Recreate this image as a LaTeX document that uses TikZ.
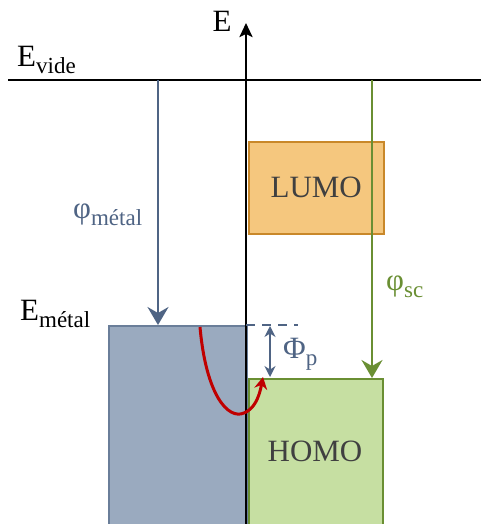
\documentclass[tikz,border=0pt]{standalone}
\usepackage{fontspec}
\setmainfont{Liberation Serif}
\usetikzlibrary{arrows.meta}
\definecolor{metalblue}{HTML}{4F6484}
\definecolor{metalfill}{HTML}{9AAABF}
\definecolor{metaledge}{HTML}{6A7E99}
\definecolor{scgreen}{HTML}{6A8F33}
\definecolor{homofill}{HTML}{C6DFA2}
\definecolor{lumofill}{HTML}{F5C77E}
\definecolor{lumoedge}{HTML}{C9882A}
\definecolor{redarr}{HTML}{C00000}
\definecolor{txtgray}{HTML}{404040}
\newcommand{\bigtxt}{\fontsize{31}{34}\selectfont}
\newcommand{\subtxt}[1]{\raisebox{-7pt}{\fontsize{23}{24}\selectfont #1}}
\tikzset{
  level/.style={line width=2.5pt, black},
  band/.style={draw, line width=1.5pt, anchor=north west, inner sep=0pt, text=txtgray, font=\bigtxt},
  workarrow/.style={line width=2pt, -{Stealth[length=18pt,width=21pt,inset=6pt]}},
  lbl/.style={anchor=base west, inner sep=0pt, font=\bigtxt},
}
\begin{document}
\begin{tikzpicture}[x=1pt,y=-1pt]
\clip (0,0) rectangle (481,524);
\fill[white] (0,0) rectangle (481,524);
% bands
\node[band, fill=lumofill, draw=lumoedge, minimum width=135pt, minimum height=92pt] (lumo) at (248,141) {LUMO};
\node[band, fill=metalfill, draw=metaledge, minimum width=138pt, minimum height=215pt] (metal) at (108,325) {};
\node[band, fill=homofill, draw=scgreen, minimum width=134pt, minimum height=160pt] (homo) at (248,378) {};
\node[text=txtgray, font=\bigtxt] (homolbl) at (315,451) {HOMO};
% vacuum level
\coordinate (vl) at (8,80);
\coordinate (vr) at (481,80);
\draw[level] (vl) -- (vr);
% energy axis
\coordinate (ab) at (246,530);
\coordinate (at) at (246,23);
\draw[level, -{Stealth[length=14pt,width=13pt,inset=3pt]}] (ab) -- (at);
\node[font=\bigtxt, inner sep=0pt] (elbl) at (222,21) {E};
% work functions
\coordinate (m1) at (158,80);
\coordinate (m2) at (158,325);
\draw[workarrow, metalblue] (m1) -- (m2);
\coordinate (s1) at (372,80);
\coordinate (s2) at (372,378);
\draw[workarrow, scgreen] (s1) -- (s2);
% dashed level and barrier
\coordinate (d1) at (246,325);
\coordinate (d2) at (298,325);
\draw[metalblue, line width=1.8pt, dash pattern=on 9pt off 7pt] (d1) -- (d2);
\coordinate (p1) at (270,326);
\coordinate (p2) at (270,377);
\draw[metalblue, line width=1.8pt, {Stealth[length=11pt,width=11pt]}-{Stealth[length=11pt,width=11pt]}] (p1) -- (p2);
% red injection arrow
\coordinate (r1) at (200,327);
\coordinate (r2) at (263,377);
\draw[redarr, line width=3pt, -{Stealth[length=12pt,width=13pt]}] (r1) .. controls (206,395) and (228,420) .. (244,413) .. controls (254,409) and (259,398) .. (r2);
% labels
\node[lbl] (evide) at (17,67) {E\subtxt{vide}};
\node[lbl] (emetal) at (20,320) {E\subtxt{métal}};
\node[lbl, text=metalblue] (phim) at (73,218) {φ\subtxt{métal}};
\node[lbl, text=scgreen] (phisc) at (386,290) {φ\subtxt{sc}};
\node[lbl, text=metalblue] (phip) at (283,358) {Φ\subtxt{p}};
\end{tikzpicture}
\end{document}
